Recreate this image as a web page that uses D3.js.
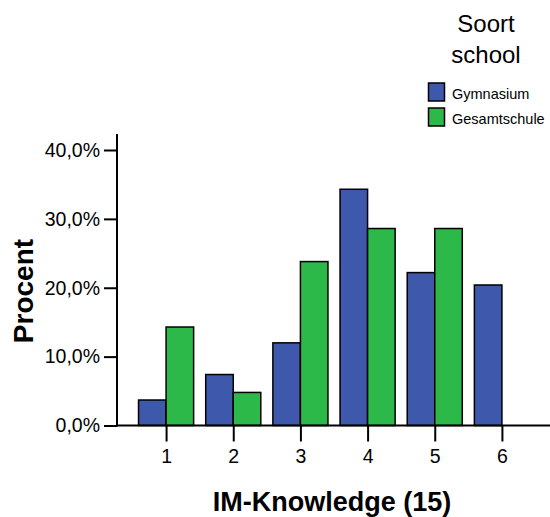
<!DOCTYPE html>
<html><head><meta charset="utf-8">
<script src="https://cdn.jsdelivr.net/npm/d3@7"></script>
<style>body{margin:0;background:#fff}svg{display:block;font-family:Arial,"Liberation Sans",sans-serif}</style>
</head><body>
<svg id="c" width="550" height="517"></svg>
<script>
const categories = ["1","2","3","4","5","6"];
const seriesNames = ["Gymnasium","Gesamtschule"];
const gymnasium = [3.7, 7.4, 12.0, 34.3, 22.2, 20.4];
const gesamtschule = [14.3, 4.8, 23.8, 28.6, 28.6, 0];
const yTicks = [0, 10, 20, 30, 40];
const colors = ["#3e58ac", "#2db84a"];

const svg = d3.select("#c");
const x0 = 117, x1 = 550, yBase = 425.5;
const y = d3.scaleLinear().domain([0, 40]).range([yBase, 150]);
const x = d3.scaleBand().domain(categories).range([132.5, 535.5]).paddingInner(0.18).paddingOuter(0.09);
const xs = d3.scaleBand().domain(seriesNames).range([0, x.bandwidth()]);
const series = [gymnasium, gesamtschule];

// bars
series.forEach((vals, si) => {
  svg.append("g").selectAll("rect").data(vals).join("rect")
    .attr("x", (d, i) => x(categories[i]) + xs(seriesNames[si]))
    .attr("y", d => y(d))
    .attr("width", xs.bandwidth())
    .attr("height", d => yBase - y(d))
    .attr("fill", colors[si])
    .attr("stroke", d => d === 0 ? "#888" : "#000")
    .attr("stroke-width", 1.5);
});

// y axis
const yAxis = d3.axisLeft(y).tickValues(yTicks).tickSize(13).tickPadding(4)
  .tickFormat(d => d.toFixed(1).replace(".", ",") + "%");
const gy = svg.append("g").attr("transform", `translate(${x0},0)`).call(yAxis);
gy.select(".domain").remove();
gy.selectAll("line").attr("stroke", "#000").attr("stroke-width", 2);
gy.selectAll("text").attr("font-size", 19.5).attr("fill", "#000");
svg.append("line").attr("x1", x0).attr("x2", x0).attr("y1", 134).attr("y2", yBase + 1)
  .attr("stroke", "#000").attr("stroke-width", 2);

// x axis
const xc = d3.scalePoint().domain(categories).range([x(categories[0]) + x.bandwidth()/2, x(categories[5]) + x.bandwidth()/2]);
const xAxis = d3.axisBottom(xc).tickSize(16).tickPadding(8);
const gx = svg.append("g").attr("transform", `translate(0,${yBase})`).call(xAxis);
gx.select(".domain").remove();
gx.selectAll("line").attr("stroke", "#000").attr("stroke-width", 2);
gx.selectAll("text").attr("font-size", 19.5).attr("fill", "#000");
svg.append("line").attr("x1", x0 - 1).attr("x2", x1).attr("y1", yBase).attr("y2", yBase)
  .attr("stroke", "#000").attr("stroke-width", 2);

// axis titles
svg.append("text").attr("x", 332).attr("y", 511).attr("text-anchor", "middle")
  .attr("font-size", 27).attr("font-weight", "bold").text("IM-Knowledge (15)");
svg.append("text").attr("transform", "translate(33,291) rotate(-90)").attr("text-anchor", "middle")
  .attr("font-size", 28).attr("font-weight", "bold").text("Procent");

// legend
svg.append("text").attr("x", 486).attr("y", 32).attr("text-anchor", "middle").attr("font-size", 24).text("Soort");
svg.append("text").attr("x", 486).attr("y", 63).attr("text-anchor", "middle").attr("font-size", 24).text("school");
seriesNames.forEach((n, i) => {
  const yy = 83 + i * 25;
  svg.append("rect").attr("x", 428.5).attr("y", yy).attr("width", 16).attr("height", 18)
    .attr("fill", colors[i]).attr("stroke", "#000").attr("stroke-width", 1.5);
  svg.append("text").attr("x", 452).attr("y", yy + 16).attr("font-size", 14.5).text(n);
});
</script>
</body></html>
